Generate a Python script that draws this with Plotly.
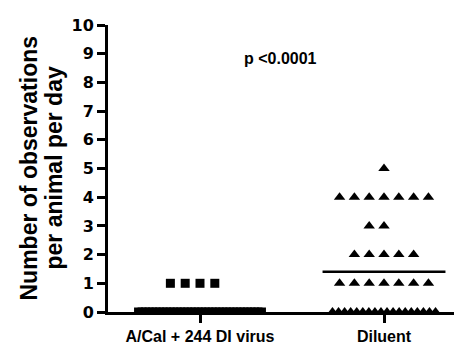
import numpy as np
import plotly.graph_objects as go

# ---- data ----
categories = ["A/Cal + 244 DI virus", "Diluent"]
acal_values = [1] * 4 + [0] * 36
diluent_values = [5] * 1 + [4] * 7 + [3] * 2 + [2] * 5 + [1] * 7 + [0] * 18
y_ticks = list(range(0, 11))
p_text = "p <0.0001"

# ---- layout helpers ----
STEP = 0.0805          # spacing between neighbouring points in a row (x units)
ZERO_WIDTH = {0: 0.668, 1: 0.56}  # width of the crowded row at zero
MEAN_HALF = 0.334


def spread(values, center, zero_width):
    xs, ys = [], []
    vals = np.array(values)
    for v in sorted(set(values), reverse=True):
        n = int((vals == v).sum())
        if v == 0:
            offs = np.linspace(-zero_width / 2, zero_width / 2, n)
        else:
            offs = (np.arange(n) - n // 2) * STEP
        xs.extend(center + offs)
        ys.extend([v] * n)
    return xs, ys


FONT = "Liberation Sans"
fig = go.Figure()

for i, (vals, sym, size) in enumerate([(acal_values, "square", 9),
                                       (diluent_values, "triangle-up", 10)]):
    xs, ys = spread(vals, i, ZERO_WIDTH[i])
    fig.add_trace(go.Scatter(x=xs, y=ys, mode="markers",
                             marker=dict(symbol=sym, size=size, color="black",
                                         line=dict(width=0)),
                             cliponaxis=True, showlegend=False, hoverinfo="skip"))
    m = float(np.mean(vals))
    fig.add_trace(go.Scatter(x=[i - MEAN_HALF, i + MEAN_HALF], y=[m, m], mode="lines",
                             line=dict(color="black", width=2.5),
                             cliponaxis=True, showlegend=False, hoverinfo="skip"))

fig.update_layout(
    width=462, height=347,
    margin=dict(l=100, r=2, t=17, b=43),
    paper_bgcolor="white", plot_bgcolor="white",
    font=dict(family=FONT, color="black"),
    xaxis=dict(range=[-0.5, 1.4565], tickvals=[0, 1], ticktext=categories,
               showgrid=False, zeroline=False, showline=True, linecolor="black",
               linewidth=3, ticks="outside", ticklen=8, tickwidth=3, tickcolor="black",
               tickfont=dict(family=FONT, size=16, color="black", weight=700)),
    yaxis=dict(range=[0, 10], tickmode="array", tickvals=y_ticks,
               ticktext=["<b>%d</b>" % v for v in y_ticks], showgrid=False, zeroline=False,
               showline=True, linecolor="black", linewidth=3, ticks="outside",
               ticklen=8, tickwidth=3, tickcolor="black",
               tickfont=dict(family="DejaVu Sans", size=16, color="black")),
    annotations=[
        dict(text="Number of observations", xref="paper", yref="paper", x=0, y=0.5,
             xanchor="center", yanchor="middle", xshift=-80, textangle=-90,
             showarrow=False, font=dict(family=FONT, size=23, color="black", weight=700)),
        dict(text="per animal per day", xref="paper", yref="paper", x=0, y=0.5,
             xanchor="center", yanchor="middle", xshift=-55, textangle=-90,
             showarrow=False, font=dict(family=FONT, size=23, color="black", weight=700)),
        dict(text=p_text, xref="paper", yref="paper", x=0.478, y=0.885,
             xanchor="center", yanchor="middle", showarrow=False,
             font=dict(family=FONT, size=16, color="black", weight=700)),
    ],
)

fig.write_html("out.html")
